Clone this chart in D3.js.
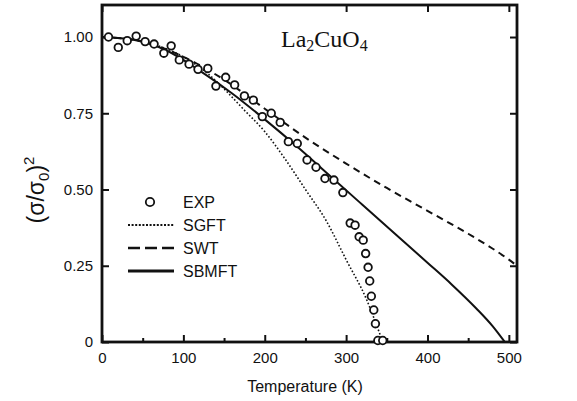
<!DOCTYPE html>
<html>
<head>
<meta charset="utf-8">
<script src="https://cdn.jsdelivr.net/npm/d3@7"></script>
<style>
  html, body { margin: 0; padding: 0; background: #fff; }
  svg { display: block; }
  .tick text { font-family: "Liberation Sans", Arial, sans-serif; font-size: 15px; fill: #111; }
</style>
</head>
<body>
<svg id="chart" width="577" height="401"></svg>
<script>
// measured points, (sigma/sigma0)^2 vs temperature
const expT = [8, 20, 31, 42, 53, 64, 76, 85, 95, 107, 118, 130, 140, 152, 163, 175, 186, 197, 208, 219,
  229, 240, 252, 263, 274, 285, 296, 305, 311, 316, 321, 324, 327, 329, 331, 334, 336, 339, 345];
const expV = [1.0, 0.966, 0.988, 1.003, 0.985, 0.977, 0.947, 0.971, 0.925, 0.911, 0.894, 0.897, 0.839, 0.868, 0.843, 0.807, 0.793, 0.739, 0.75, 0.72,
  0.657, 0.651, 0.597, 0.573, 0.536, 0.531, 0.49, 0.39, 0.383, 0.345, 0.334, 0.29, 0.245, 0.2, 0.15, 0.105, 0.06, 0.005, 0.005];

// theory curves
const sgftT = [0, 50, 100, 130, 150, 175, 200, 225, 250, 275, 300, 325, 345];
const sgftV = [1.0, 0.985, 0.935, 0.88, 0.83, 0.76, 0.69, 0.6, 0.5, 0.4, 0.27, 0.14, 0.0];

const swtT = [0, 50, 100, 150, 200, 250, 300, 350, 400, 450, 500, 510];
const swtV = [1.0, 0.985, 0.935, 0.86, 0.765, 0.67, 0.585, 0.505, 0.43, 0.355, 0.27, 0.25];

const sbmftT = [0, 40, 80, 120, 160, 200, 240, 280, 320, 360, 400, 430, 460, 480, 495];
const sbmftV = [1.0, 0.99, 0.955, 0.89, 0.815, 0.73, 0.64, 0.545, 0.45, 0.355, 0.26, 0.188, 0.11, 0.052, 0.0];

const xTicks = [0, 100, 200, 300, 400, 500];
const xMinor = [50, 150, 250, 350, 450];
const yTicks = [0, 0.25, 0.5, 0.75, 1.0];
const yTickLabels = ["0", "0.25", "0.50", "0.75", "1.00"];
const legendNames = ["EXP", "SGFT", "SWT", "SBMFT"];

const ink = "#111";
const svg = d3.select("#chart");

// frame runs a little past 500 K
const xMax = 510;
const x = d3.scaleLinear().domain([0, xMax]).range([102, 517]);
const y = d3.scaleLinear().domain([0, 1.105]).range([342, 5]);

const toPts = (ts, vs) => ts.map((t, i) => [t, vs[i]]);

// ticks, all pointing into the frame
svg.append("g")
  .attr("transform", `translate(0,${y(0)})`)
  .call(d3.axisBottom(x).tickValues(xTicks).tickSize(-7).tickPadding(10).tickFormat(d3.format("d")));
svg.append("g")
  .attr("transform", `translate(0,${y(0)})`)
  .call(d3.axisBottom(x).tickValues(xMinor).tickSize(-4).tickFormat(""));
svg.append("g")
  .attr("transform", `translate(0,${y.range()[1]})`)
  .call(d3.axisTop(x).tickValues(xTicks).tickSize(-7).tickFormat(""));
svg.append("g")
  .attr("transform", `translate(${x(0)},0)`)
  .call(d3.axisLeft(y).tickValues(yTicks).tickSize(-7).tickPadding(9).tickFormat((d, i) => yTickLabels[i]));
svg.append("g")
  .attr("transform", `translate(${x(xMax)},0)`)
  .call(d3.axisRight(y).tickValues(yTicks).tickSize(-7).tickFormat(""));

svg.selectAll(".domain").remove();
svg.selectAll(".tick line").attr("stroke", ink).attr("stroke-width", 2);

// frame
svg.append("rect")
  .attr("x", x(0)).attr("y", y.range()[1])
  .attr("width", x(xMax) - x(0)).attr("height", y(0) - y.range()[1])
  .attr("fill", "none").attr("stroke", ink).attr("stroke-width", 2.8);

const line = d3.line().x(d => x(d[0])).y(d => y(d[1])).curve(d3.curveMonotoneX);

svg.append("path").datum(toPts(sgftT, sgftV))
  .attr("d", line).attr("fill", "none").attr("stroke", ink)
  .attr("stroke-width", 1.6).attr("stroke-dasharray", "1.6,2");
svg.append("path").datum(toPts(swtT, swtV))
  .attr("d", line).attr("fill", "none").attr("stroke", ink)
  .attr("stroke-width", 2).attr("stroke-dasharray", "7,5");
svg.append("path").datum(toPts(sbmftT, sbmftV))
  .attr("d", line).attr("fill", "none").attr("stroke", ink)
  .attr("stroke-width", 2);

svg.append("g").selectAll("circle")
  .data(toPts(expT, expV))
  .join("circle")
  .attr("cx", d => x(d[0])).attr("cy", d => y(d[1]))
  .attr("r", 3.8).attr("fill", "#fff").attr("stroke", ink).attr("stroke-width", 1.8);

// legend
const lg = svg.append("g").attr("transform", "translate(128,202)");
const rowH = 23;
lg.append("circle").attr("cx", 22).attr("cy", 0).attr("r", 4.2)
  .attr("fill", "#fff").attr("stroke", ink).attr("stroke-width", 1.8);
lg.append("line").attr("x1", 0).attr("x2", 46).attr("y1", rowH).attr("y2", rowH)
  .attr("stroke", ink).attr("stroke-width", 2.2).attr("stroke-dasharray", "2,1.6");
lg.append("line").attr("x1", 0).attr("x2", 46).attr("y1", rowH * 2).attr("y2", rowH * 2)
  .attr("stroke", ink).attr("stroke-width", 2.4).attr("stroke-dasharray", "12,5");
lg.append("line").attr("x1", 0).attr("x2", 46).attr("y1", rowH * 3).attr("y2", rowH * 3)
  .attr("stroke", ink).attr("stroke-width", 3.2);
lg.selectAll("text").data(legendNames).join("text")
  .attr("x", 55).attr("y", (d, i) => i * rowH).attr("dy", "0.36em")
  .attr("font-family", "Liberation Sans, Arial, sans-serif").attr("font-size", 16)
  .attr("fill", ink).text(d => d);

// compound label
const title = svg.append("text").attr("x", 281).attr("y", 47)
  .attr("font-family", "Liberation Serif, Times New Roman, serif").attr("font-size", 24).attr("fill", ink);
title.append("tspan").text("La");
title.append("tspan").attr("font-size", 16).attr("dy", 4).text("2");
title.append("tspan").attr("dy", -4).text("CuO");
title.append("tspan").attr("font-size", 16).attr("dy", 4).text("4");

// axis titles
svg.append("text").attr("x", 305).attr("y", 392).attr("text-anchor", "middle")
  .attr("font-family", "Liberation Sans, Arial, sans-serif").attr("font-size", 16).attr("fill", ink)
  .text("Temperature (K)");

const yl = svg.append("text").attr("transform", "translate(44,190) rotate(-90)")
  .attr("text-anchor", "middle")
  .attr("font-family", "Liberation Sans, Arial, sans-serif").attr("font-size", 23).attr("fill", ink);
yl.append("tspan").text("(σ/σ");
yl.append("tspan").attr("font-size", 15).attr("dy", 5).text("0");
yl.append("tspan").attr("dy", -5).text(")");
yl.append("tspan").attr("font-size", 15).attr("dy", -10).text("2");
</script>
</body>
</html>
